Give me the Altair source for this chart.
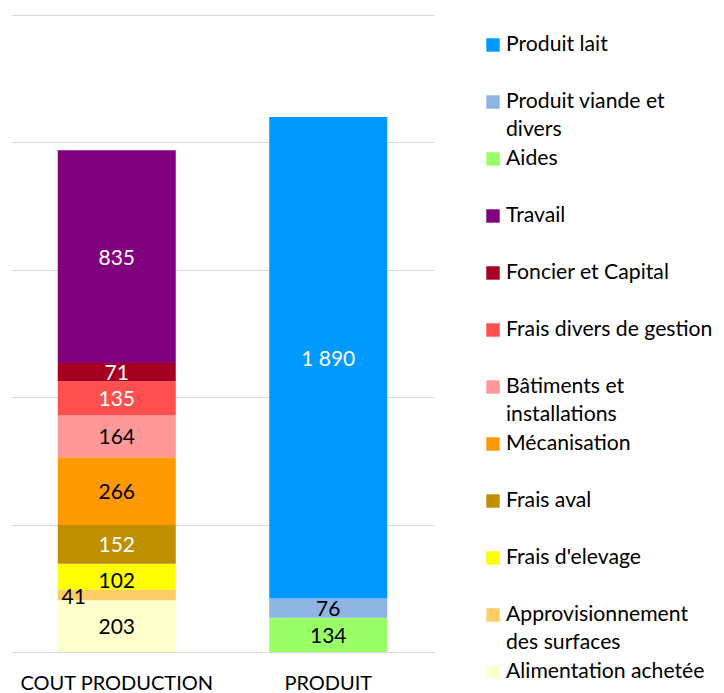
import altair as alt
import pandas as pd

# ---- data ----
bar_names = ["COUT PRODUCTION", "PRODUIT"]

cost_items = ["Alimentation achetée", "Approvisionnement des surfaces", "Frais d'elevage",
              "Frais aval", "Mécanisation", "Bâtiments et installations",
              "Frais divers de gestion", "Foncier et Capital", "Travail"]
cost_values = [203, 41, 102, 152, 266, 164, 135, 71, 835]

prod_items = ["Aides", "Produit viande et divers", "Produit lait"]
prod_values = [134, 76, 1890]

legend_items = ["Produit lait", "Produit viande et divers", "Aides", "Travail",
                "Foncier et Capital", "Frais divers de gestion", "Bâtiments et installations",
                "Mécanisation", "Frais aval", "Frais d'elevage",
                "Approvisionnement des surfaces", "Alimentation achetée"]
legend_labels = ["Produit lait", "Produit viande et\ndivers", "Aides", "Travail",
                 "Foncier et Capital", "Frais divers de gestion", "Bâtiments et\ninstallations",
                 "Mécanisation", "Frais aval", "Frais d'elevage",
                 "Approvisionnement\ndes surfaces", "Alimentation achetée"]
legend_colors = ["#0099FF", "#8EB4E3", "#99FF66", "#800080", "#A50021", "#FF5050",
                 "#FF9999", "#FF9900", "#BF8F00", "#FFFF00", "#FFCC66", "#FFFFCC"]

dark_items = ["Travail", "Foncier et Capital", "Frais divers de gestion", "Frais aval", "Produit lait"]
shifted_item = "Approvisionnement des surfaces"
lowered_item = "Frais d'elevage"

FONT = "Lato"

# ---- tables ----
rows = []
for i, (it, v) in enumerate(zip(cost_items, cost_values)):
    rows.append({"bar": bar_names[0], "item": it, "value": v, "order": i})
for i, (it, v) in enumerate(zip(prod_items, prod_values)):
    rows.append({"bar": bar_names[1], "item": it, "value": v, "order": i})
df = pd.DataFrame(rows)

sq_df = pd.DataFrame({"item": legend_items, "idx": list(range(len(legend_items)))})
LINE_STEP = 28 / 57
txt_rows = []
for i, lab in enumerate(legend_labels):
    for k, line in enumerate(lab.split("\n")):
        txt_rows.append({"text": line, "ypos": i + k * LINE_STEP})
txt_df = pd.DataFrame(txt_rows)

color_scale = alt.Scale(domain=legend_items, range=legend_colors)

x_enc = alt.X("bar:N", sort=bar_names,
              scale=alt.Scale(paddingInner=0.442, paddingOuter=0.221),
              axis=alt.Axis(title=None, labelAngle=0, domain=False, ticks=False,
                            labelFontSize=20, labelFont=FONT, labelColor="#000000",
                            labelPadding=21, labelLimit=400))
y_scale = alt.Scale(domain=[0, 2500])

bars = alt.Chart(df).mark_bar().encode(
    x=x_enc,
    y=alt.Y("value:Q", stack="zero", scale=y_scale,
            axis=alt.Axis(title=None, labels=False, ticks=False, domain=False,
                          values=[0, 500, 1000, 1500, 2000, 2500],
                          gridColor="#d9d9d9", gridWidth=1.2)),
    color=alt.Color("item:N", scale=color_scale, legend=None),
    order=alt.Order("order:Q", sort="ascending"),
)

lab_base = alt.Chart(df).transform_stack(
    stack="value", groupby=["bar"], sort=[alt.SortField("order", order="ascending")],
    as_=["y0", "y1"]
).transform_calculate(
    mid="(datum.y0 + datum.y1) / 2",
    label="replace(format(datum.value, ','), ',', ' ')"
)

label_color = alt.when(alt.FieldOneOfPredicate(field="item", oneOf=dark_items)).then(
    alt.value("white")).otherwise(alt.value("black"))

labels = lab_base.transform_filter(
    (alt.datum.item != shifted_item) & (alt.datum.item != lowered_item)
).mark_text(fontSize=21, font=FONT, dy=2).encode(
    x=x_enc, y=alt.Y("mid:Q", scale=y_scale), text="label:N", color=label_color)

labels_shift = lab_base.transform_filter(alt.datum.item == shifted_item).mark_text(
    fontSize=21, font=FONT, dx=-43, dy=3
).encode(x=x_enc, y=alt.Y("mid:Q", scale=y_scale), text="label:N", color=label_color)

labels_low = lab_base.transform_filter(alt.datum.item == lowered_item).mark_text(
    fontSize=21, font=FONT, dy=5
).encode(x=x_enc, y=alt.Y("mid:Q", scale=y_scale), text="label:N", color=label_color)

bar_view = alt.layer(bars, labels, labels_low, labels_shift).properties(width=423, height=637)

leg_y = alt.Scale(domain=[-0.526, 11.228], reverse=True)
leg_sq = alt.Chart(sq_df).mark_square(size=180, opacity=1).encode(
    x=alt.value(7),
    y=alt.Y("idx:Q", scale=leg_y, axis=None),
    color=alt.Color("item:N", scale=color_scale, legend=None),
)
leg_txt = alt.Chart(txt_df).mark_text(
    align="left", baseline="middle", fontSize=21.2, font=FONT, color="#000000"
).encode(
    x=alt.value(20),
    y=alt.Y("ypos:Q", scale=leg_y, axis=None),
    text="text:N",
)
legend_view = alt.layer(leg_sq, leg_txt).properties(width=200, height=670)

chart = alt.hconcat(bar_view, legend_view, spacing=52).properties(
    padding={"left": 3, "top": 7, "right": 0, "bottom": 0}
).configure_view(strokeWidth=0)

chart.save("out.html", embed_options={"renderer": "svg", "actions": False})
